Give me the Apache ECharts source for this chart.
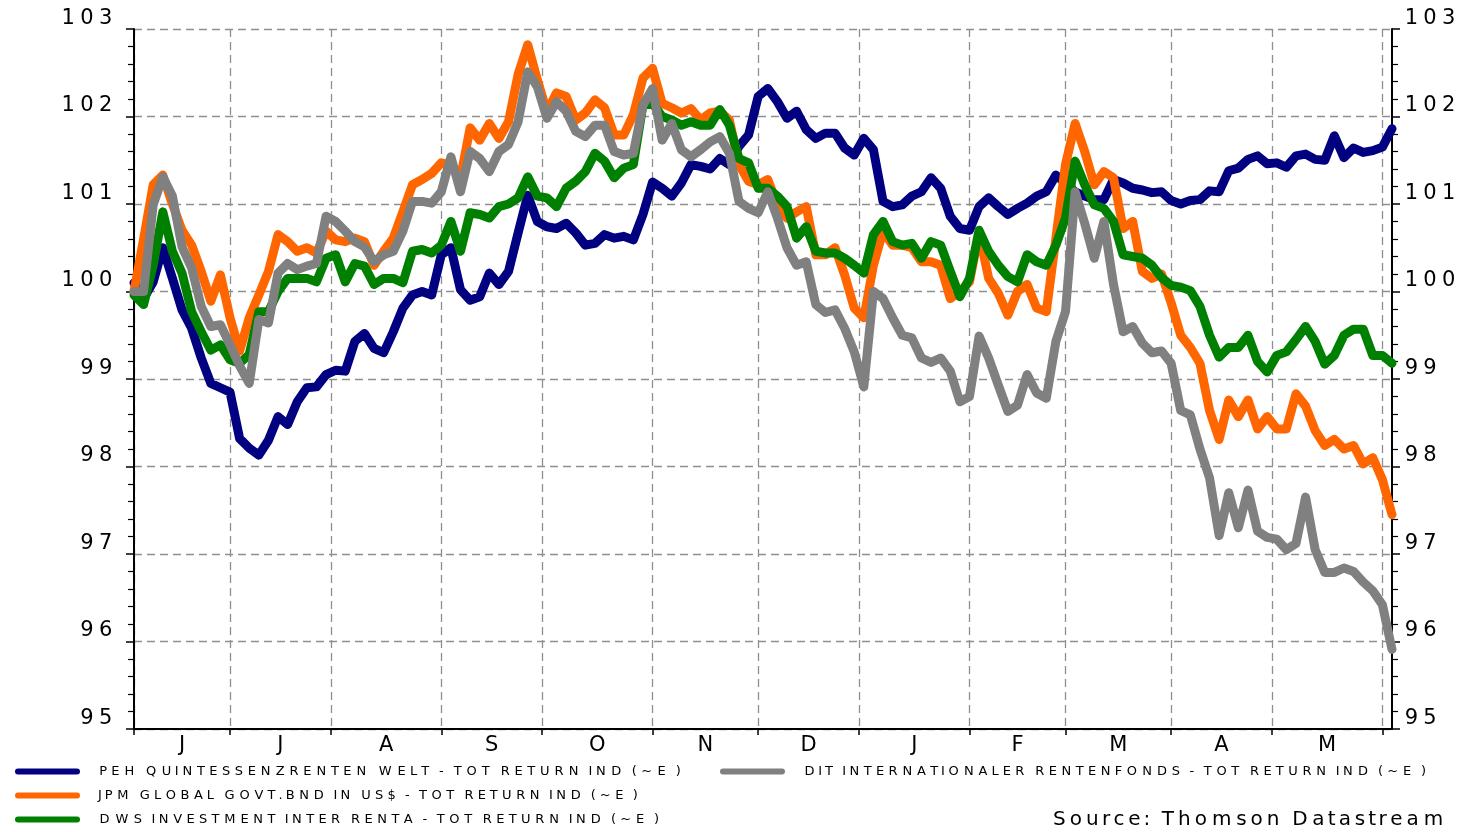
<!DOCTYPE html>
<html>
<head>
<meta charset="utf-8">
<script src="https://cdn.jsdelivr.net/npm/echarts@6/dist/echarts.min.js"></script>
<style>
  html, body { margin: 0; padding: 0; background: #fff; }
  #chart { width: 1465px; height: 832px; }
</style>
</head>
<body>
<div id="chart"></div>
<script>
// business-day index of each sample (June .. May)
const days = [
  0, 2, 4, 6, 8, 10, 12, 14, 16, 18, 20, 22, 24, 26, 28, 30, 32, 34, 36, 38, 40, 42, 44, 46, 48, 50, 52,
  54, 56, 58, 60, 62, 64, 66, 68, 70, 72, 74, 76, 78, 80, 82, 84, 86, 88, 90, 92, 94, 96, 98, 100, 102, 104, 106,
  108, 110, 112, 114, 116, 118, 120, 122, 124, 126, 128, 130, 132, 134, 136, 138, 140, 142, 144, 146, 148, 150, 152, 154, 156, 158,
  160, 162, 164, 166, 168, 170, 172, 174, 176, 178, 180, 182, 184, 186, 188, 190, 192, 194, 196, 198, 200, 202, 204, 206, 208, 210, 212,
  214, 216, 218, 220, 222, 224, 226, 228, 230, 232, 234, 236, 238, 240, 242, 244, 246, 248, 250, 252, 254, 256, 258, 260, 262
]
const monthStarts = [0, 20, 41, 64, 85, 108, 130, 151, 174, 194, 216, 237, 260]
const monthLetters = ['J', 'J', 'A', 'S', 'O', 'N', 'D', 'J', 'F', 'M', 'A', 'M']
const dayMax = 262

const peh = [
  100.1, 99.92, 100.11, 100.5, 100.15, 99.79, 99.58, 99.24, 98.95, 98.9, 98.85, 98.32, 98.21, 98.13, 98.3, 98.57, 98.48, 98.74, 98.9, 98.91, 99.05, 99.1, 99.09, 99.43, 99.52, 99.35, 99.3,
  99.54, 99.81, 99.96, 100.0, 99.96, 100.42, 100.5, 100.02, 99.9, 99.94, 100.21, 100.08, 100.23, 100.67, 101.1, 100.8, 100.74, 100.72, 100.78, 100.67, 100.53, 100.55, 100.65, 100.61, 100.63, 100.59, 100.88,
  101.25, 101.18, 101.09, 101.24, 101.45, 101.43, 101.4, 101.52, 101.45, 101.66, 101.79, 102.23, 102.32, 102.17, 101.98, 102.06, 101.85, 101.75, 101.81, 101.81, 101.64, 101.56, 101.75, 101.62, 101.03, 100.97,
  100.99, 101.09, 101.14, 101.3, 101.18, 100.86, 100.72, 100.7, 100.97, 101.07, 100.97, 100.88, 100.95, 101.01, 101.09, 101.14, 101.33, 101.24, 101.14, 101.09, 101.05, 101.05, 101.28, 101.24, 101.18, 101.16, 101.13,
  101.14, 101.04, 101.0, 101.04, 101.05, 101.15, 101.14, 101.38, 101.41, 101.51, 101.55, 101.46, 101.47, 101.42, 101.55, 101.57, 101.51, 101.5, 101.78, 101.53, 101.64, 101.59, 101.61, 101.65, 101.86
]
const jpm = [
  100.0, 100.6, 101.22, 101.33, 101.0, 100.7, 100.53, 100.23, 99.89, 100.19, 99.7, 99.32, 99.7, 99.96, 100.23, 100.65, 100.57, 100.46, 100.5, 100.44, 100.69, 100.59, 100.57, 100.61, 100.57, 100.3, 100.46,
  100.61, 100.91, 101.22, 101.28, 101.35, 101.47, 101.45, 101.3, 101.87, 101.73, 101.92, 101.75, 101.94, 102.48, 102.82, 102.42, 102.05, 102.27, 102.23, 101.96, 102.04, 102.19, 102.1, 101.79, 101.79, 102.02, 102.44,
  102.55, 102.15, 102.1, 102.04, 102.09, 101.96, 102.04, 102.06, 101.96, 101.45, 101.26, 101.22, 101.28, 100.99, 100.84, 100.91, 100.97, 100.42, 100.42, 100.5, 100.19, 99.81, 99.7, 100.3, 100.69, 100.53,
  100.53, 100.5, 100.34, 100.34, 100.3, 99.92, 100.0, 100.11, 100.67, 100.15, 99.98, 99.73, 100.0, 100.08, 99.81, 99.77, 100.61, 101.45, 101.92, 101.6, 101.22, 101.37, 101.3, 100.72, 100.8, 100.23, 100.15,
  100.2, 99.87, 99.5, 99.36, 99.18, 98.64, 98.31, 98.76, 98.57, 98.76, 98.43, 98.57, 98.43, 98.43, 98.83, 98.69, 98.41, 98.24, 98.31, 98.2, 98.24, 98.03, 98.1, 97.85, 97.45
]
const dws = [
  99.96, 99.85, 100.3, 100.91, 100.46, 100.21, 99.77, 99.54, 99.33, 99.39, 99.22, 99.18, 99.28, 99.77, 99.77, 100.0, 100.15, 100.15, 100.15, 100.11, 100.38, 100.42, 100.11, 100.32, 100.29, 100.08, 100.15,
  100.15, 100.1, 100.46, 100.48, 100.44, 100.53, 100.8, 100.46, 100.9, 100.88, 100.84, 100.97, 101.0, 101.07, 101.31, 101.09, 101.07, 100.97, 101.18, 101.26, 101.37, 101.58, 101.49, 101.3, 101.41, 101.45, 102.13,
  102.15, 102.0, 101.96, 101.9, 101.94, 101.9, 101.9, 102.08, 101.9, 101.52, 101.47, 101.18, 101.18, 101.09, 100.97, 100.61, 100.74, 100.46, 100.44, 100.44, 100.38, 100.3, 100.21, 100.65, 100.8, 100.57,
  100.53, 100.55, 100.38, 100.57, 100.53, 100.23, 99.94, 100.15, 100.7, 100.46, 100.3, 100.17, 100.11, 100.42, 100.34, 100.3, 100.53, 100.84, 101.49, 101.22, 100.99, 100.95, 100.8, 100.42, 100.4, 100.38, 100.3,
  100.16, 100.07, 100.05, 100.01, 99.83, 99.5, 99.25, 99.36, 99.36, 99.5, 99.2, 99.08, 99.27, 99.31, 99.45, 99.6, 99.43, 99.17, 99.27, 99.5, 99.57, 99.57, 99.27, 99.27, 99.18
]
const dit = [
  100.0, 100.0, 100.99, 101.31, 101.09, 100.51, 100.27, 99.83, 99.6, 99.62, 99.39, 99.15, 98.95, 99.68, 99.64, 100.21, 100.32, 100.25, 100.29, 100.32, 100.86, 100.8, 100.69, 100.57, 100.51, 100.34, 100.42,
  100.46, 100.69, 101.03, 101.03, 101.01, 101.14, 101.54, 101.14, 101.6, 101.52, 101.37, 101.6, 101.68, 101.94, 102.51, 102.34, 101.98, 102.17, 102.06, 101.83, 101.77, 101.9, 101.9, 101.6, 101.56, 101.58, 102.13,
  102.32, 101.73, 101.92, 101.62, 101.54, 101.62, 101.71, 101.77, 101.58, 101.03, 100.95, 100.9, 101.14, 100.84, 100.5, 100.3, 100.34, 99.85, 99.76, 99.79, 99.58, 99.31, 98.91, 100.0, 99.92, 99.7,
  99.5, 99.47, 99.24, 99.19, 99.24, 99.09, 98.74, 98.8, 99.49, 99.24, 98.93, 98.63, 98.7, 99.05, 98.84, 98.78, 99.43, 99.77, 101.14, 100.78, 100.38, 100.8, 100.08, 99.54, 99.6, 99.41, 99.3,
  99.32, 99.18, 98.64, 98.59, 98.2, 97.87, 97.21, 97.7, 97.3, 97.73, 97.26, 97.19, 97.17, 97.05, 97.12, 97.65, 97.05, 96.79, 96.79, 96.84, 96.8, 96.68, 96.58, 96.42, 95.91
]

const seriesNames = [
  'PEH QUINTESSENZRENTEN WELT - TOT RETURN IND (~E )',
  'JPM GLOBAL GOVT.BND IN US$ - TOT RETURN IND (~E )',
  'DWS INVESTMENT INTER RENTA - TOT RETURN IND (~E )',
  'DIT INTERNATIONALER RENTENFONDS - TOT RETURN IND (~E )'
]
const seriesValues = [peh, jpm, dws, dit]
const seriesColors = ['#000080', '#ff6600', '#008000', '#808080']
const sourceText = 'Source: Thomson Datastream'

const FONT = 'DejaVu Sans'
const monthMids = monthLetters.map((m, i) => (monthStarts[i] + monthStarts[i + 1]) / 2)

// the reference text is drawn wide, so each character gets a wider box
const measure = document.createElement('canvas').getContext('2d')
const rich = {gap: {width: 12}}
function stretch(text, size, factor) {
  measure.font = size + 'px "' + FONT + '"'
  return text.split('').map(ch => {
    const w = Math.round(measure.measureText(ch).width * factor * 10) / 10
    const key = 's' + size + '_' + String(w).replace('.', '_')
    rich[key] = {width: w, align: 'center', fontSize: size, fontFamily: FONT, color: '#000'}
    return '{' + key + '|' + ch + '}'
  }).join('')
}
function stretchTo(text, size, target) {
  measure.font = size + 'px "' + FONT + '"'
  let natural = 0
  text.split('').forEach(ch => { natural += measure.measureText(ch).width })
  return stretch(text, size, target / natural)
}

const yLabels = {}
for (let v = 95; v <= 103; v++) yLabels[v] = stretch(String(v), 21, 1.4)
const legendWidths = [585, 542, 563, 625]
const legendLabels = {}
seriesNames.forEach((n, i) => { legendLabels[n] = '{gap| }' + stretchTo(n, 13, legendWidths[i]) })
const sourceLabel = stretchTo(sourceText, 20, 395)

const capsule = 'path://M3,0L62,0A3,3,0,0,1,62,6L3,6A3,3,0,0,1,3,0Z'
const legendPos = [[15, 765], [15, 789], [15, 813], [720, 765]]
const legends = seriesNames.map((n, i) => ({
  data: [n],
  left: legendPos[i][0],
  top: legendPos[i][1],
  padding: 0,
  icon: capsule,
  itemWidth: 65,
  itemHeight: 6,
  selectedMode: false,
  formatter: name => legendLabels[name],
  textStyle: {rich: rich, fontSize: 13, fontFamily: FONT, color: '#000'}
}))

const dashed = {color: '#8f8f8f', type: [8, 5], width: 1.3}

function yAxis(position, margin, grid) {
  return {
    type: 'value',
    position: position,
    min: 95,
    max: 103,
    interval: 1,
    axisLine: {show: true, lineStyle: {color: '#000', width: 2}},
    axisTick: {show: true, length: 8, lineStyle: {color: '#000', width: 1.5}},
    minorTick: {show: true, splitNumber: 5, length: 6, lineStyle: {color: '#000', width: 1.2}},
    axisLabel: {
      margin: margin,
      verticalAlign: 'bottom',
      formatter: v => yLabels[v],
      rich: rich
    },
    splitLine: {show: grid, lineStyle: dashed}
  }
}

const chart = echarts.init(document.getElementById('chart'))
chart.setOption({
  animation: false,
  backgroundColor: '#fff',
  grid: {left: 134, right: 73, top: 29, bottom: 103, outerBoundsMode: 'none'},
  legend: legends,
  graphic: [{
    type: 'text',
    left: 1053,
    top: 810,
    style: {text: sourceLabel, rich: rich, fontSize: 20, fontFamily: FONT, fill: '#000'}
  }],
  xAxis: {
    type: 'value',
    min: 0,
    max: dayMax,
    axisLine: {onZero: false, lineStyle: {color: '#000', width: 2}},
    axisTick: {customValues: monthStarts, length: 6, lineStyle: {color: '#000', width: 1.5}},
    axisLabel: {
      customValues: monthMids,
      margin: 6,
      fontSize: 21,
      fontFamily: FONT,
      color: '#000',
      formatter: v => monthLetters[monthMids.indexOf(v)]
    },
    splitLine: {show: true, lineStyle: dashed}
  },
  yAxis: [yAxis('left', 19, true), yAxis('right', 10, false)],
  series: seriesNames.map((n, i) => ({
    name: n,
    type: 'line',
    data: days.map((d, j) => [d, seriesValues[i][j]]),
    showSymbol: false,
    symbol: 'none',
    color: seriesColors[i],
    lineStyle: {width: 9, cap: 'round', join: 'round'},
    emphasis: {disabled: true},
    z: 2 + i
  }))
})
</script>
</body>
</html>
